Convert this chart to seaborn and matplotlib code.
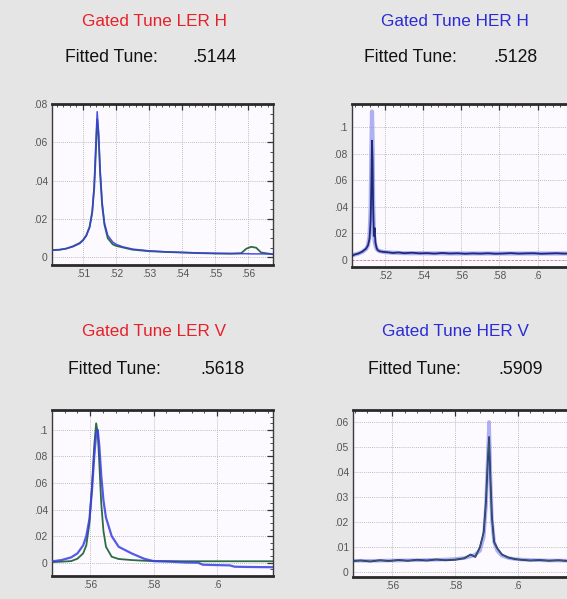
import matplotlib
matplotlib.use("Agg")
import matplotlib.pyplot as plt
import seaborn as sns
import pandas as pd
from matplotlib.ticker import AutoMinorLocator
from matplotlib import font_manager

# ---------------- data ----------------
# LER H
ler_h_x = [0.5006, 0.503, 0.505, 0.507, 0.509, 0.510, 0.511, 0.512, 0.5128, 0.5134, 0.5139,
           0.5143, 0.5147, 0.5152, 0.5158, 0.5165, 0.5175, 0.519, 0.520, 0.522, 0.525, 0.530,
           0.535, 0.540, 0.545, 0.550, 0.555, 0.558, 0.5595, 0.561, 0.5625, 0.564, 0.5676]
ler_h_meas = [0.0038, 0.0040, 0.0046, 0.0058, 0.0075, 0.0090, 0.0115, 0.016, 0.024, 0.036, 0.055,
              0.072, 0.064, 0.043, 0.027, 0.017, 0.010, 0.0068, 0.0060, 0.0052, 0.0040, 0.0032,
              0.0028, 0.0025, 0.0022, 0.0020, 0.0019, 0.0022, 0.0045, 0.0055, 0.0050, 0.0025, 0.0016]
ler_h_fit = [0.0036, 0.0040, 0.0046, 0.0056, 0.0072, 0.0088, 0.0112, 0.0155, 0.023, 0.038, 0.060,
             0.076, 0.066, 0.046, 0.029, 0.018, 0.0115, 0.0080, 0.0068, 0.0055, 0.0043, 0.0034,
             0.0029, 0.0026, 0.0023, 0.0021, 0.0020, 0.0019, 0.0019, 0.0018, 0.0018, 0.0018, 0.0017]

# HER H
her_h_x = [0.5026, 0.504, 0.506, 0.508, 0.510, 0.511, 0.5118, 0.5124, 0.5128, 0.5131, 0.5134,
           0.5137, 0.5141, 0.5145, 0.5149, 0.5155, 0.516, 0.517, 0.519, 0.521, 0.524, 0.527,
           0.530, 0.534, 0.538, 0.542, 0.546, 0.550, 0.554, 0.558, 0.562, 0.566, 0.570,
           0.574, 0.578, 0.582, 0.586, 0.590, 0.594, 0.598, 0.602, 0.606, 0.610, 0.614, 0.618]
her_h_meas = [0.0030, 0.0040, 0.0048, 0.0062, 0.0085, 0.011, 0.016, 0.030, 0.060, 0.090, 0.075,
              0.040, 0.018, 0.024, 0.013, 0.0090, 0.0075, 0.0065, 0.0060, 0.0058, 0.0052, 0.0056,
              0.0050, 0.0054, 0.0049, 0.0051, 0.0047, 0.0052, 0.0048, 0.0050, 0.0046, 0.0049, 0.0047,
              0.0050, 0.0046, 0.0048, 0.0051, 0.0047, 0.0049, 0.0050, 0.0046, 0.0048, 0.0050, 0.0047, 0.0049]
her_h_fit = [0.0032, 0.0040, 0.0048, 0.0060, 0.0082, 0.011, 0.018, 0.040, 0.085, 0.112, 0.090,
             0.045, 0.020, 0.014, 0.011, 0.0085, 0.0075, 0.0066, 0.0060, 0.0057, 0.0054, 0.0052,
             0.0051, 0.0050, 0.0050, 0.0049, 0.0049, 0.0049, 0.0048, 0.0048, 0.0048, 0.0048, 0.0048,
             0.0048, 0.0048, 0.0048, 0.0048, 0.0048, 0.0048, 0.0048, 0.0048, 0.0048, 0.0048, 0.0048, 0.0048]

# LER V
ler_v_x = [0.548, 0.551, 0.554, 0.556, 0.5578, 0.5588, 0.5598, 0.5606, 0.5613, 0.5619, 0.5624,
           0.5629, 0.5635, 0.5642, 0.565, 0.5668, 0.569, 0.5731, 0.577, 0.580, 0.585, 0.590,
           0.594, 0.5955, 0.600, 0.604, 0.6055, 0.610, 0.6176]
ler_v_meas = [0.0005, 0.0008, 0.0012, 0.0030, 0.0070, 0.013, 0.030, 0.058, 0.088, 0.105, 0.098,
              0.075, 0.045, 0.024, 0.012, 0.0045, 0.0028, 0.0020, 0.0015, 0.0012, 0.0012, 0.0011,
              0.0011, 0.0011, 0.0011, 0.0011, 0.0011, 0.0011, 0.0011]
ler_v_fit = [0.0010, 0.0020, 0.0040, 0.0070, 0.013, 0.020, 0.033, 0.055, 0.080, 0.097, 0.100,
             0.088, 0.066, 0.047, 0.034, 0.020, 0.012, 0.0070, 0.0030, 0.0012, 0.0008, 0.0002,
             0.0000, -0.0015, -0.0018, -0.0020, -0.0030, -0.0032, -0.0034]

# HER V
her_v_x = [0.5475, 0.550, 0.553, 0.556, 0.559, 0.562, 0.565, 0.568, 0.571, 0.574, 0.577, 0.580,
           0.583, 0.585, 0.5865, 0.588, 0.5892, 0.5899, 0.5904, 0.5909, 0.5913, 0.5918, 0.5925,
           0.5935, 0.595, 0.597, 0.599, 0.601, 0.604, 0.607, 0.610, 0.613, 0.616, 0.620, 0.624]
her_v_meas = [0.0044, 0.0046, 0.0042, 0.0047, 0.0044, 0.0048, 0.0045, 0.0049, 0.0046, 0.0050, 0.0047,
              0.0049, 0.0055, 0.0070, 0.0060, 0.0100, 0.016, 0.028, 0.042, 0.054, 0.038, 0.022, 0.012,
              0.0095, 0.0070, 0.0058, 0.0052, 0.0049, 0.0046, 0.0048, 0.0045, 0.0047, 0.0044, 0.0046, 0.0045]
her_v_fit = [0.0045, 0.0045, 0.0045, 0.0045, 0.0046, 0.0046, 0.0047, 0.0047, 0.0048, 0.0049, 0.0050,
             0.0052, 0.0056, 0.0062, 0.0070, 0.0085, 0.014, 0.026, 0.043, 0.060, 0.040, 0.021, 0.012,
             0.0085, 0.0065, 0.0056, 0.0052, 0.0050, 0.0048, 0.0047, 0.0046, 0.0046, 0.0045, 0.0045, 0.0045]

titles = ["Gated Tune LER H", "Gated Tune HER H", "Gated Tune LER V", "Gated Tune HER V"]
fitted = [".5144", ".5128", ".5618", ".5909"]

ler_h_xticks = [0.51, 0.52, 0.53, 0.54, 0.55, 0.56]
ler_h_xlabels = [".51", ".52", ".53", ".54", ".55", ".56"]
ler_h_yticks = [0, 0.02, 0.04, 0.06, 0.08]
ler_h_ylabels = ["0", ".02", ".04", ".06", ".08"]
her_h_xticks = [0.52, 0.54, 0.56, 0.58, 0.60]
her_h_xlabels = [".52", ".54", ".56", ".58", ".6"]
her_h_yticks = [0, 0.02, 0.04, 0.06, 0.08, 0.10]
her_h_ylabels = ["0", ".02", ".04", ".06", ".08", ".1"]
ler_v_xticks = [0.56, 0.58, 0.60]
ler_v_xlabels = [".56", ".58", ".6"]
ler_v_yticks = [0, 0.02, 0.04, 0.06, 0.08, 0.10]
ler_v_ylabels = ["0", ".02", ".04", ".06", ".08", ".1"]
her_v_xticks = [0.56, 0.58, 0.60]
her_v_xlabels = [".56", ".58", ".6"]
her_v_yticks = [0, 0.01, 0.02, 0.03, 0.04, 0.05, 0.06]
her_v_ylabels = ["0", ".01", ".02", ".03", ".04", ".05", ".06"]

# ---------------- figure ----------------
sns.set_style("white")
installed = {f.name for f in font_manager.fontManager.ttflist}
narrow = "Liberation Sans Narrow" if "Liberation Sans Narrow" in installed else "Liberation Sans"
scale = 1.0 if narrow == "Liberation Sans Narrow" else 0.82
plt.rcParams['font.family'] = [narrow, 'DejaVu Sans']

W, H = 567, 599
fig = plt.figure(figsize=(W / 100, H / 100), dpi=100, facecolor="#e5e5e5")


def rect(l, t, r, b):
    return [l / W, 1 - b / H, (r - l) / W, (b - t) / H]


panels = [
    dict(rect=rect(52, 104, 273, 265), x=ler_h_x, meas=ler_h_meas, fit=ler_h_fit,
         xlim=(0.5006, 0.5676), ylim=(-0.004, 0.080),
         xt=ler_h_xticks, xl=ler_h_xlabels, yt=ler_h_yticks, yl=ler_h_ylabels,
         mc="#2f6b45", fc="#3a3ee0", mlw=1.3, flw=1.1, falpha=0.9,
         tcol="#e8202a", tx=155, ty=22, fx=65, fvx=192, fy=57),
    dict(rect=rect(352, 104, 596, 267), x=her_h_x, meas=her_h_meas, fit=her_h_fit,
         xlim=(0.5026, 0.6307), ylim=(-0.0054, 0.1177),
         xt=her_h_xticks, xl=her_h_xlabels, yt=her_h_yticks, yl=her_h_ylabels,
         mc="#1d2a78", fc="#8f8fef", mlw=1.3, flw=3.0, falpha=0.7,
         tcol="#2b2bd6", tx=455, ty=22, fx=364, fvx=493, fy=57),
    dict(rect=rect(52, 410, 273, 576), x=ler_v_x, meas=ler_v_meas, fit=ler_v_fit,
         xlim=(0.548, 0.6176), ylim=(-0.010, 0.115),
         xt=ler_v_xticks, xl=ler_v_xlabels, yt=ler_v_yticks, yl=ler_v_ylabels,
         mc="#2f6b45", fc="#3a3ee0", mlw=1.3, flw=1.6, falpha=0.85,
         tcol="#e8202a", tx=154, ty=332, fx=68, fvx=200, fy=369),
    dict(rect=rect(353, 410, 596, 577), x=her_v_x, meas=her_v_meas, fit=her_v_fit,
         xlim=(0.5475, 0.6250), ylim=(-0.002, 0.0648),
         xt=her_v_xticks, xl=her_v_xlabels, yt=her_v_yticks, yl=her_v_ylabels,
         mc="#1d2a78", fc="#8f8fef", mlw=1.3, flw=2.6, falpha=0.7,
         tcol="#2b2bd6", tx=455, ty=332, fx=368, fvx=498, fy=369),
]

for i, p in enumerate(panels):
    ax = fig.add_axes(p["rect"])
    ax.set_facecolor("#fcfaff")
    df = pd.DataFrame({"tune": p["x"], "meas": p["meas"], "fit": p["fit"]})
    if i in (1, 3):
        sns.lineplot(data=df, x="tune", y="fit", ax=ax, color=p["fc"], lw=p["flw"],
                     alpha=p["falpha"], zorder=2)
        sns.lineplot(data=df, x="tune", y="meas", ax=ax, color=p["mc"], lw=p["mlw"], zorder=3)
        if i == 3:
            sns.lineplot(data=df, x="tune", y="meas", ax=ax, color="#4f8a4a", lw=0.6,
                         alpha=0.6, zorder=3)
    else:
        sns.lineplot(data=df, x="tune", y="meas", ax=ax, color=p["mc"], lw=p["mlw"], zorder=2)
        sns.lineplot(data=df, x="tune", y="fit", ax=ax, color=p["fc"], lw=p["flw"],
                     alpha=p["falpha"], zorder=3)
    if i == 1:
        ax.axhline(0, color="#e07a8a", lw=0.7, ls=(0, (2, 2)), zorder=1)

    ax.set_xlim(*p["xlim"])
    ax.set_ylim(*p["ylim"])
    ax.set_xticks(p["xt"])
    ax.set_xticklabels(p["xl"])
    ax.set_yticks(p["yt"])
    ax.set_yticklabels(p["yl"])
    ax.xaxis.set_minor_locator(AutoMinorLocator(5))
    ax.yaxis.set_minor_locator(AutoMinorLocator(4))
    ax.set_xlabel("")
    ax.set_ylabel("")
    ax.grid(True, which="major", color="#a8a8b0", lw=0.6, ls=(0, (1, 1.5)))
    ax.tick_params(which="both", direction="in", top=True, right=True, colors="#333333",
                   labelsize=9 * scale, labelcolor="#555555", pad=3)
    ax.tick_params(which="major", length=4, width=0.9)
    ax.tick_params(which="minor", length=2, width=0.6)
    for side in ("top", "bottom"):
        ax.spines[side].set_linewidth(2.0)
        ax.spines[side].set_color("#2a2a2a")
    for side in ("left", "right"):
        ax.spines[side].set_linewidth(1.0)
        ax.spines[side].set_color("#3a3a3a")

    fig.text(p["tx"] / W, 1 - p["ty"] / H, titles[i], color=p["tcol"], fontsize=15 * scale,
             ha="center", va="center")
    fig.text(p["fx"] / W, 1 - p["fy"] / H, "Fitted Tune:", color="#111111", fontsize=15.5 * scale,
             ha="left", va="center")
    fig.text(p["fvx"] / W, 1 - p["fy"] / H, fitted[i], color="#111111", fontsize=15.5 * scale,
             ha="left", va="center")

fig.savefig("out.png", dpi=100, facecolor=fig.get_facecolor())
